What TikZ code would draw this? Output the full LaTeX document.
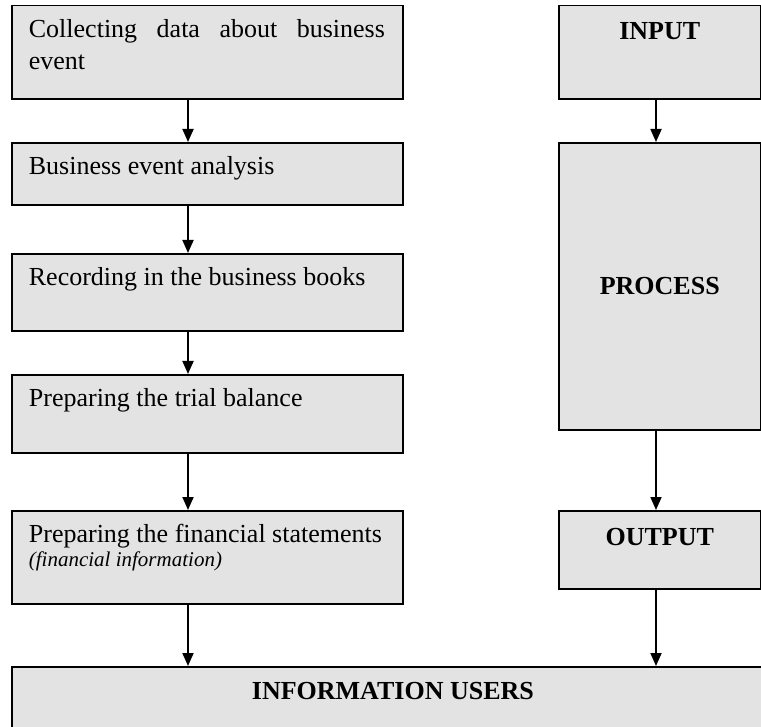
\documentclass[tikz,border=0pt]{standalone}
\usepackage{fontspec}
\setmainfont{Liberation Serif}
\usetikzlibrary{arrows.meta}
\definecolor{boxfill}{RGB}{227,227,227}
\newcommand\bxtext[4]{\hspace*{17pt}\parbox[c][#2][t]{#1}{\rule{0pt}{32pt}#3}\hspace*{#4}}
\begin{document}
\begin{tikzpicture}[x=1pt,y=-1pt,
  box/.style={draw=black,line width=1.8pt,fill=boxfill,inner sep=0pt,anchor=north west,
    font=\fontsize{26}{31.7}\selectfont},
  arr/.style={line width=1.8pt,-{Triangle[width=11pt,length=13pt]}}]
\clip (0,0) rectangle (761,727);
\useasboundingbox (0,0) rectangle (761,727);
% left column
\node[box] (b1) at (11,4.7) {\bxtext{356pt}{93.3pt}{Collecting data about business\linebreak event}{18pt}};
\node[box] (b2) at (11,142) {\bxtext{370pt}{62pt}{\raggedright Business event analysis}{4pt}};
\node[box] (b3) at (11,253) {\bxtext{370pt}{77pt}{\raggedright Recording in the business books}{4pt}};
\node[box] (b4) at (11,374) {\bxtext{370pt}{78pt}{\raggedright Preparing the trial balance}{4pt}};
\node[box] (b5) at (11,510) {\bxtext{370pt}{93pt}{\raggedright Preparing the financial statements\par
  {\fontsize{21}{24}\selectfont\itshape (financial information)\par}}{4pt}};
% right column
\node[box] (r1) at (557.7,4.7) {\parbox[c][93.3pt][t]{202.3pt}{\centering\rule{0pt}{34pt}\bfseries INPUT}};
\node[box,minimum width=202.3pt,minimum height=287pt,font=\fontsize{26}{31.7}\selectfont\bfseries] (r2) at (557.7,142) {PROCESS};
\node[box] (r3) at (557.7,510) {\parbox[c][77.7pt][t]{202.3pt}{\centering\rule{0pt}{35pt}\bfseries OUTPUT}};
% bottom
\node[box] (u) at (11,666) {\parbox[c][110pt][t]{762pt}{\centering\rule{0pt}{33pt}\bfseries INFORMATION USERS}};
% column axes
\coordinate (cl) at (188,0);
\coordinate (cr) at (656,0);
% arrows
\draw[arr] (b1.south -| cl) -- (b2.north -| cl);
\draw[arr] (b2.south -| cl) -- (b3.north -| cl);
\draw[arr] (b3.south -| cl) -- (b4.north -| cl);
\draw[arr] (b4.south -| cl) -- (b5.north -| cl);
\draw[arr] (b5.south -| cl) -- (u.north -| cl);
\draw[arr] (r1.south -| cr) -- (r2.north -| cr);
\draw[arr] (r2.south -| cr) -- (r3.north -| cr);
\draw[arr] (r3.south -| cr) -- (u.north -| cr);
\end{tikzpicture}
\end{document}
